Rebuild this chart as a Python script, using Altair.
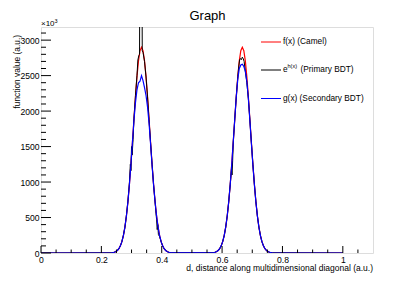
import altair as alt
import pandas as pd

# ---------------- data ----------------
x_grid_left = [0.233, 0.238, 0.243, 0.248, 0.253, 0.258, 0.263, 0.268, 0.273, 0.278,
               0.283, 0.288, 0.293, 0.298, 0.303, 0.308, 0.313, 0.318, 0.323, 0.328,
               0.333, 0.338, 0.343, 0.348, 0.353, 0.358, 0.363, 0.368, 0.373, 0.378,
               0.383, 0.388, 0.393, 0.398, 0.403, 0.408, 0.413, 0.418, 0.423, 0.428, 0.433]
x_grid_right = [0.567, 0.572, 0.577, 0.582, 0.587, 0.592, 0.597, 0.602, 0.607, 0.612,
                0.617, 0.622, 0.627, 0.632, 0.637, 0.642, 0.647, 0.652, 0.657, 0.662,
                0.667, 0.672, 0.677, 0.682, 0.687, 0.692, 0.697, 0.702, 0.707, 0.712,
                0.717, 0.722, 0.727, 0.732, 0.737, 0.742, 0.747, 0.752, 0.757, 0.762, 0.767]

# f(x) (Camel)
camel_left = [3, 6, 11, 20, 36, 61, 101, 160, 246, 364, 522, 723, 968, 1252, 1564, 1889, 2204,
              2485, 2708, 2851, 2900, 2851, 2708, 2485, 2204, 1889, 1564, 1252, 968, 723, 522,
              364, 246, 160, 101, 61, 36, 20, 11, 6, 3]
camel_right = [3, 6, 11, 20, 36, 61, 101, 160, 246, 364, 522, 723, 968, 1252, 1564, 1889, 2204,
               2485, 2708, 2851, 2900, 2851, 2708, 2485, 2204, 1889, 1564, 1252, 968, 723, 522,
               364, 246, 160, 101, 61, 36, 20, 11, 6, 3]

# g(x) (Secondary BDT)
sec_left = [3, 6, 11, 20, 36, 61, 101, 160, 246, 364, 522, 723, 968, 1252, 1564, 1870, 2120,
            2300, 2400, 2420, 2500, 2430, 2330, 2220, 2060, 1830, 1540, 1240, 960, 718, 520,
            362, 245, 160, 101, 61, 36, 20, 11, 6, 3]
sec_right = [3, 6, 11, 20, 36, 61, 101, 160, 246, 364, 522, 723, 968, 1252, 1564, 1889, 2200,
             2450, 2600, 2650, 2660, 2630, 2560, 2420, 2180, 1870, 1550, 1245, 965, 720, 520,
             363, 245, 160, 101, 61, 36, 20, 11, 6, 3]

# e^h(x) (Primary BDT) - noisy
prim_x = [0.0, 0.233, 0.238, 0.243, 0.248, 0.253, 0.258, 0.263, 0.268, 0.273, 0.278, 0.283,
          0.288, 0.293, 0.296, 0.298, 0.300, 0.302, 0.305, 0.308, 0.313, 0.318, 0.321, 0.324,
          0.3265, 0.327, 0.335, 0.3355, 0.338, 0.343, 0.348, 0.353, 0.358, 0.363, 0.368, 0.373,
          0.378, 0.381, 0.383, 0.385, 0.387, 0.389, 0.393, 0.398, 0.403, 0.408, 0.413, 0.418,
          0.423, 0.428, 0.433,
          0.567, 0.572, 0.577, 0.582, 0.587, 0.592, 0.597, 0.602, 0.607, 0.612, 0.617, 0.622,
          0.627, 0.631, 0.633, 0.635, 0.637, 0.642, 0.647, 0.652, 0.655, 0.658, 0.661, 0.664,
          0.667, 0.670, 0.673, 0.677, 0.682, 0.687, 0.692, 0.697, 0.702, 0.707, 0.712, 0.717,
          0.722, 0.727, 0.732, 0.737, 0.742, 0.747, 0.752, 0.757, 0.762, 0.767, 1.0]
prim_y = [0, 3, 6, 11, 20, 36, 61, 101, 160, 250, 360, 530,
          730, 990, 1250, 1160, 1500, 1380, 1600, 1900, 2220, 2500, 2720, 2780,
          2800, 3450, 3450, 2850, 2830, 2700, 2480, 2200, 1880, 1560, 1250, 960,
          720, 560, 470, 330, 400, 260, 230, 160, 100, 61, 36, 20,
          11, 6, 3,
          3, 6, 11, 20, 36, 61, 101, 160, 246, 364, 522, 723,
          968, 1180, 1100, 1300, 1564, 1889, 2204, 2485, 2620, 2720, 2740, 2725,
          2760, 2740, 2700, 2560, 2400, 2180, 1880, 1560, 1250, 968, 723, 522,
          364, 246, 160, 101, 61, 36, 20, 11, 6, 3, 0]

y_major_ticks = [0, 500, 1000, 1500, 2000, 2500, 3000]
y_minor_ticks = [100, 200, 300, 400, 600, 700, 800, 900, 1100, 1200, 1300, 1400, 1600, 1700,
                 1800, 1900, 2100, 2200, 2300, 2400, 2600, 2700, 2800, 2900, 3100]
x_major_ticks = [0, 0.2, 0.4, 0.6, 0.8, 1.0]
x_minor_ticks = [0.05, 0.1, 0.15, 0.25, 0.3, 0.35, 0.45, 0.5, 0.55, 0.65, 0.7, 0.75,
                 0.85, 0.9, 0.95, 1.05]

legend_labels = ["f(x) (Camel)", "(Primary BDT)", "g(x) (Secondary BDT)"]
series_colors = ["#ff0000", "#000000", "#0000ff"]

# ---------------- build ----------------
W, H = 332, 226
FONT = "Liberation Sans"
xs = alt.Scale(domain=[0, 1.1], nice=False, zero=False)
ys = alt.Scale(domain=[0, 3185], nice=False)

df_f = pd.DataFrame({"x": [0.0] + x_grid_left + x_grid_right + [1.0],
                     "y": [0] + camel_left + camel_right + [0]})
df_g = pd.DataFrame({"x": [0.0] + x_grid_left + x_grid_right + [1.0],
                     "y": [0] + sec_left + sec_right + [0]})
df_h = pd.DataFrame({"x": prim_x, "y": prim_y})

x_axis = alt.Axis(values=x_major_ticks, format="~g", ticks=False, domain=False, grid=False,
                  labelFont=FONT, labelFontSize=8.6, labelColor="black", labelPadding=2,
                  title=None, labelFlush=False)
y_axis = alt.Axis(values=y_major_ticks, format="d", ticks=False, domain=False, grid=False,
                  labelFont=FONT, labelFontSize=8.6, labelColor="black", labelPadding=2,
                  title=None, labelFlush=False)


def line(df, color, width):
    return alt.Chart(df).mark_line(color=color, strokeWidth=width, clip=True).encode(
        x=alt.X("x:Q", scale=xs, axis=x_axis), y=alt.Y("y:Q", scale=ys, axis=y_axis))


def yticks(vals, length):
    return alt.Chart(pd.DataFrame({"v": vals})).mark_rule(color="black", strokeWidth=1).encode(
        y=alt.Y("v:Q", scale=ys, axis=y_axis), x=alt.value(0), x2=alt.value(length))


def xticks(vals, length):
    return alt.Chart(pd.DataFrame({"v": vals})).mark_rule(color="black", strokeWidth=1).encode(
        x=alt.X("v:Q", scale=xs, axis=x_axis), y=alt.value(H), y2=alt.value(H - length))


one = pd.DataFrame({"a": [0]})


def txt(s, x, y, size, align="left", baseline="middle", angle=0):
    kw = dict(align=align, baseline=baseline, font=FONT, fontSize=size, color="black")
    if angle:
        kw["angle"] = angle
    return alt.Chart(pd.DataFrame({"t": [s]})).mark_text(**kw).encode(
        text="t:N", x=alt.value(x), y=alt.value(y))


def leg_line(color, y):
    return alt.Chart(one).mark_rule(color=color, strokeWidth=1).encode(
        x=alt.value(220), x2=alt.value(240), y=alt.value(y))


layers = [
    line(df_f, series_colors[0], 1.2), line(df_h, series_colors[1], 1.0),
    line(df_g, series_colors[2], 1.2),
    yticks(y_major_ticks, 10), yticks(y_minor_ticks, 5),
    xticks(x_major_ticks, 7), xticks(x_minor_ticks, 3.5),
    leg_line(series_colors[0], 15), txt(legend_labels[0], 242, 15, 8.3),
    leg_line(series_colors[1], 43), txt("e", 242, 43, 8.3), txt("h(x)", 246.5, 39, 5.5),
    txt(legend_labels[1], 259.5, 43, 8.3),
    leg_line(series_colors[2], 71.5), txt(legend_labels[2], 242, 71.5, 8.3),
    txt("Graph", 166.5, -7, 13, align="center", baseline="alphabetic"),
    txt("\u00d710", 0, -1, 8, baseline="alphabetic"),
    txt("3", 13.5, -4.5, 5.5, baseline="alphabetic"),
    txt("function value (a.u.)", -24, 8, 8.4, align="right", angle=270),
    txt("d, distance along multidimensional diagonal (a.u.)", W, 241, 8.5, align="right"),
]

chart = alt.layer(*layers).properties(
    width=W, height=H,
    autosize=alt.AutoSizeParams(type="none"),
    padding={"left": 33, "top": 19, "right": 33, "bottom": 20},
).configure_view(stroke="black", strokeWidth=1).configure(background="white")

chart.save("out.html", embed_options={"renderer": "svg", "actions": False})
